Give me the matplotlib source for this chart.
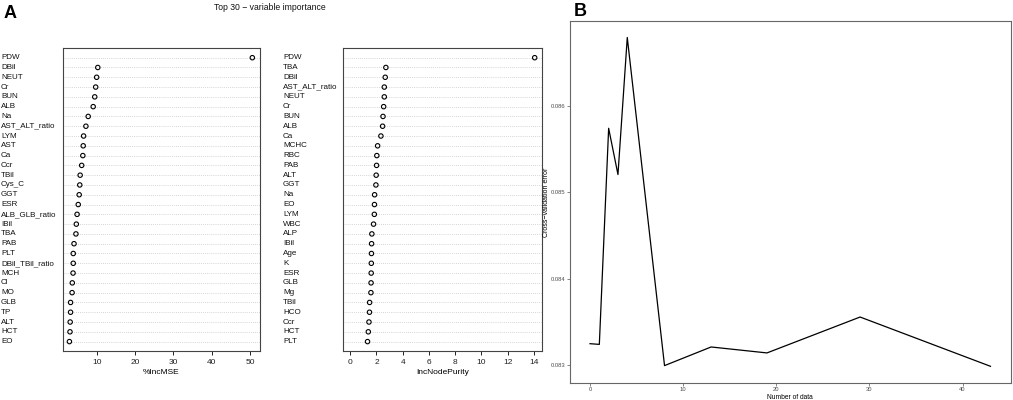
import matplotlib
matplotlib.use('Agg')
import matplotlib.pyplot as plt
import matplotlib.transforms as mtransforms

plt.rcParams['font.family'] = ['Liberation Sans', 'DejaVu Sans']

# Panel A, left: %IncMSE (top to bottom)
mse_vars = ['PDW', 'DBil', 'NEUT', 'Cr', 'BUN', 'ALB', 'Na', 'AST_ALT_ratio', 'LYM', 'AST',
            'Ca', 'Ccr', 'TBil', 'Cys_C', 'GGT', 'ESR', 'ALB_GLB_ratio', 'IBil', 'TBA', 'PAB',
            'PLT', 'DBil_TBil_ratio', 'MCH', 'Cl', 'MO', 'GLB', 'TP', 'ALT', 'HCT', 'EO']
mse_vals = [50.6, 10.3, 10.0, 9.75, 9.5, 9.1, 7.8, 7.2, 6.6, 6.5,
            6.4, 6.1, 5.7, 5.6, 5.45, 5.2, 4.9, 4.7, 4.6, 4.1,
            3.9, 3.9, 3.85, 3.65, 3.6, 3.2, 3.2, 3.1, 3.05, 2.9]

# Panel A, right: IncNodePurity (top to bottom)
np_vars = ['PDW', 'TBA', 'DBil', 'AST_ALT_ratio', 'NEUT', 'Cr', 'BUN', 'ALB', 'Ca', 'MCHC',
           'RBC', 'PAB', 'ALT', 'GGT', 'Na', 'EO', 'LYM', 'WBC', 'ALP', 'IBil',
           'Age', 'K', 'ESR', 'GLB', 'Mg', 'TBil', 'HCO', 'Ccr', 'HCT', 'PLT']
np_vals = [14.07, 2.72, 2.67, 2.6, 2.6, 2.55, 2.5, 2.47, 2.34, 2.09,
           2.03, 2.01, 1.98, 1.96, 1.86, 1.85, 1.84, 1.78, 1.65, 1.63,
           1.62, 1.61, 1.60, 1.59, 1.58, 1.48, 1.47, 1.43, 1.38, 1.32]

# Panel B: cross-validation error
n_data = [0, 1, 2, 3, 4, 8, 13, 19, 29, 43]
cv_err = [0.083246, 0.083238, 0.085742, 0.085206, 0.086794,
          0.082992, 0.083208, 0.083139, 0.083555, 0.082984]

fig = plt.figure(figsize=(10.13, 4), dpi=100)
W, H = 1013.0, 400.0


def px_axes(x0, y0, x1, y1):
    return fig.add_axes([x0 / W, 1 - y1 / H, (x1 - x0) / W, (y1 - y0) / H])


def dotchart(ax, names, vals, xlim, xticks, xlabel, label_x):
    n = len(names)
    rows = list(range(n, 0, -1))
    for r in rows:
        ax.axhline(r, color='#c8c8c8', linestyle=(0, (1, 1.5)), linewidth=0.6, zorder=1)
    ax.scatter(vals, rows, s=10, facecolors='none', edgecolors='black', linewidths=0.8, zorder=3)
    ax.set_xlim(*xlim)
    ax.set_ylim(0.04, n + 0.96)
    ax.set_yticks([])
    ax.set_xticks(xticks)
    ax.tick_params(axis='x', length=3, width=0.7, pad=2.5, labelsize=6, colors='#222222')
    ax.set_xlabel(xlabel, fontsize=6, labelpad=2.5)
    for s in ax.spines.values():
        s.set_color('#444444')
        s.set_linewidth(0.8)
    trans = mtransforms.blended_transform_factory(fig.transFigure, ax.transData)
    for name, r in zip(names, rows):
        fig.text(label_x / W, r, name, transform=trans, ha='left', va='center',
                 fontsize=5.8, color='#111111')


ax1 = px_axes(62.7, 48.3, 260, 351)
dotchart(ax1, mse_vars, mse_vals, (1.15, 52.6), [10, 20, 30, 40, 50], '%IncMSE', 1)

ax2 = px_axes(343, 48.3, 542.3, 351)
dotchart(ax2, np_vars, np_vals, (-0.55, 14.65), list(range(0, 15, 2)), 'IncNodePurity', 283)

fig.text(270 / W, 1 - 8 / H, 'Top 30 \u2212 variable importance', ha='center', va='center',
         fontsize=6.2, color='#111111')
fig.text(4 / W, 1 - 13 / H, 'A', ha='left', va='center', fontsize=13, fontweight='bold')
fig.text(574 / W, 1 - 12 / H, 'B', ha='left', va='center', fontsize=13, fontweight='bold')

# Panel B
ax3 = px_axes(570, 21, 1010.5, 382.7)
ax3.plot(n_data, cv_err, color='black', linewidth=0.9)
ax3.set_xlim(-2.15, 45.15)
ax3.set_ylim(0.082794, 0.086985)
ax3.set_xticks([0, 10, 20, 30, 40])
ax3.set_yticks([0.083, 0.084, 0.085, 0.086])
ax3.set_yticklabels(['0.083', '0.084', '0.085', '0.086'])
ax3.tick_params(length=2, width=0.5, pad=1.2, labelsize=4.2, colors='#555555', labelcolor='#4d4d4d')
ax3.set_xlabel('Number of data', fontsize=4.8, labelpad=1.5)
ax3.set_ylabel('Cross\u2212validation error', fontsize=5, labelpad=0.5)
for s in ax3.spines.values():
    s.set_color('#666666')
    s.set_linewidth(0.8)

fig.savefig('out.png', dpi=100)
plt.close(fig)
